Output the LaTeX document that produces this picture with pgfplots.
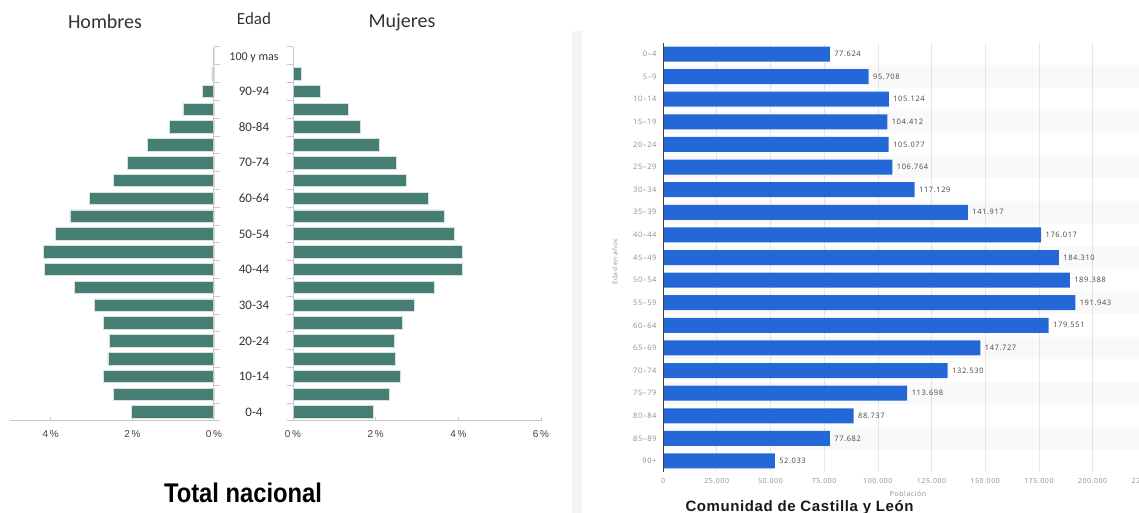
\documentclass[border=0pt]{standalone}
\usepackage{pgfplots}
\usepackage{pgfplotstable}
\pgfplotsset{compat=1.18}
\usepackage{fontspec}
\setmainfont{Carlito}
\newfontfamily\stfont[LetterSpace=8]{Open Sans}
\newfontfamily\arialfont{Liberation Sans}
\newfontfamily\widefont[LetterSpace=4]{Liberation Sans}
\newfontfamily\narrowfont[FakeStretch=0.88]{Liberation Sans}

\definecolor{pyr}{HTML}{477E74}
\definecolor{pyredge}{HTML}{D5E3DF}
\definecolor{axgray}{HTML}{C8C8C8}
\definecolor{hdr}{HTML}{333333}
\definecolor{stblue}{HTML}{2468D8}
\definecolor{stgray}{HTML}{8C8C8C}
\definecolor{sttext}{HTML}{444444}

% Spanish population by five-year age group, % of total (0 = 0-4 ... 20 = 100 y mas)
\pgfplotstableread{
age hom  muj
0   2.03 1.94
1   2.46 2.33
2   2.72 2.59
3   2.60 2.47
4   2.56 2.45
5   2.70 2.65
6   2.93 2.93
7   3.41 3.41
8   4.16 4.09
9   4.18 4.11
10  3.88 3.91
11  3.53 3.66
12  3.06 3.27
13  2.47 2.75
14  2.13 2.50
15  1.64 2.08
16  1.10 1.64
17  0.76 1.34
18  0.28 0.66
19  0.05 0.20
20  0.01 0.02
}\pyramid

\begin{document}
\begin{tikzpicture}
\useasboundingbox (0pt,0pt) rectangle (1139pt,513pt);

% separator strip between the two panels
\fill[black!4] (572pt,0pt) rectangle (582pt,482pt);

% ---------- pyramid headers ----------
\node[font=\fontsize{20}{24}\selectfont, text=hdr] at (105pt,491pt) {Hombres};
\node[font=\fontsize{17}{20}\selectfont, text=hdr] at (254pt,494pt) {Edad};
\node[font=\fontsize{20}{24}\selectfont, text=hdr] at (402pt,491pt) {Mujeres};

% ---------- men (left half) ----------
\begin{axis}[
  at={(10pt,92pt)}, anchor=south west, scale only axis,
  width=204pt, height=374pt,
  xmin=0, xmax=5, x dir=reverse,
  ymin=-0.5, ymax=20.5,
  axis x line*=bottom, axis y line=none,
  x axis line style={axgray, line width=1pt, -},
  xtick={0,2,4}, xticklabels={0\,\%,2\,\%,4\,\%},
  tick align=inside, major tick length=4pt,
  xtick style={axgray, line width=1pt},
  x tick label style={font=\arialfont\fontsize{10}{12}\selectfont, text=black!75, yshift=-6pt},
  ytick=\empty,
  clip=false,
]
\addplot[xbar, bar width=12.5pt, fill=pyr, draw=pyredge, line width=0.8pt]
  table[x=hom, y=age] {\pyramid};
\draw[axgray, line width=1pt] (axis cs:0,-0.5) -- (axis cs:0,20.5);
\pgfplotsinvokeforeach{-0.5,0.5,...,20.5}{
  \draw[axgray, line width=1pt] (axis cs:0,#1) -- ++(6pt,0pt);
}
% age group labels in the central column
\begin{scope}[every node/.style={font=\fontsize{13}{15}\selectfont, text=hdr, xshift=40pt}]
\node at (axis cs:0,0) {0-4};
\node at (axis cs:0,2) {10-14};
\node at (axis cs:0,4) {20-24};
\node at (axis cs:0,6) {30-34};
\node at (axis cs:0,8) {40-44};
\node at (axis cs:0,10) {50-54};
\node at (axis cs:0,12) {60-64};
\node at (axis cs:0,14) {70-74};
\node at (axis cs:0,16) {80-84};
\node at (axis cs:0,18) {90-94};
\node[font=\fontsize{12}{14}\selectfont, yshift=-1.5pt] at (axis cs:0,20) {100 y mas};
\end{scope}
\end{axis}

% ---------- women (right half) ----------
\begin{axis}[
  at={(293pt,92pt)}, anchor=south west, scale only axis,
  width=248pt, height=374pt,
  xmin=0, xmax=6,
  ymin=-0.5, ymax=20.5,
  axis x line*=bottom, axis y line=none,
  x axis line style={axgray, line width=1pt, -},
  xtick={0,2,4,6}, xticklabels={0\,\%,2\,\%,4\,\%,6\,\%},
  tick align=inside, major tick length=4pt,
  xtick style={axgray, line width=1pt},
  x tick label style={font=\arialfont\fontsize{10}{12}\selectfont, text=black!75, yshift=-6pt},
  ytick=\empty,
  clip=false,
]
\addplot[xbar, bar width=12.5pt, fill=pyr, draw=pyredge, line width=0.8pt]
  table[x=muj, y=age] {\pyramid};
\draw[axgray, line width=1pt] (axis cs:0,-0.5) -- (axis cs:0,20.5);
\pgfplotsinvokeforeach{-0.5,0.5,...,20.5}{
  \draw[axgray, line width=1pt] (axis cs:0,#1) -- ++(-6pt,0pt);
}
\end{axis}

\node[font=\narrowfont\bfseries\fontsize{27}{30}\selectfont] at (243pt,20pt) {Total nacional};

% ---------- Castilla y Leon, population by age ----------
\begin{axis}[
  at={(663pt,40.7pt)}, anchor=south west, scale only axis,
  width=483.3pt, height=429.6pt,
  xmin=0, xmax=225000,
  ymin=-0.5, ymax=18.5, y dir=reverse,
  axis line style={draw=none},
  xbar, bar width=15pt,
  xmajorgrids, grid style={black!9, line width=0.6pt},
  xtick={0,25000,50000,75000,100000,125000,150000,175000,200000,225000},
  xticklabels={0,25.000,50.000,75.000,100.000,125.000,150.000,175.000,200.000,225.000},
  scaled x ticks=false,
  ytick={0,1,...,18},
  yticklabels={0–4,5–9,10–14,15–19,20–24,25–29,30–34,35–39,40–44,45–49,
               50–54,55–59,60–64,65–69,70–74,75–79,80–84,85–89,90+},
  major tick length=0pt,
  x tick label style={font=\stfont\fontsize{7}{8}\selectfont, text=stgray, yshift=-3pt},
  y tick label style={font=\stfont\fontsize{7.5}{9}\selectfont, text=stgray, xshift=-3pt},
  nodes near coords={\pgfplotspointmeta},
  point meta=explicit symbolic,
  every node near coord/.append style={font=\stfont\fontsize{7.5}{9}\selectfont, text=sttext, anchor=west, xshift=1pt},
]
% alternating row shading
\fill[black, opacity=0.025] (axis cs:0,0.5) rectangle (axis cs:240000,1.5);
\fill[black, opacity=0.025] (axis cs:0,2.5) rectangle (axis cs:240000,3.5);
\fill[black, opacity=0.025] (axis cs:0,4.5) rectangle (axis cs:240000,5.5);
\fill[black, opacity=0.025] (axis cs:0,6.5) rectangle (axis cs:240000,7.5);
\fill[black, opacity=0.025] (axis cs:0,8.5) rectangle (axis cs:240000,9.5);
\fill[black, opacity=0.025] (axis cs:0,10.5) rectangle (axis cs:240000,11.5);
\fill[black, opacity=0.025] (axis cs:0,12.5) rectangle (axis cs:240000,13.5);
\fill[black, opacity=0.025] (axis cs:0,14.5) rectangle (axis cs:240000,15.5);
\fill[black, opacity=0.025] (axis cs:0,16.5) rectangle (axis cs:240000,17.5);
\addplot[fill=stblue, draw=none] coordinates {
  (77624,0)  [77.624]
  (95708,1)  [95.708]
  (105124,2) [105.124]
  (104412,3) [104.412]
  (105077,4) [105.077]
  (106764,5) [106.764]
  (117129,6) [117.129]
  (141917,7) [141.917]
  (176017,8) [176.017]
  (184310,9) [184.310]
  (189388,10) [189.388]
  (191943,11) [191.943]
  (179551,12) [179.551]
  (147727,13) [147.727]
  (132530,14) [132.530]
  (113698,15) [113.698]
  (88737,16) [88.737]
  (77682,17) [77.682]
  (52033,18) [52.033]
};
\draw[black!75, line width=0.8pt] (axis cs:0,-0.5) -- (axis cs:0,18.5);
\end{axis}

\node[font=\stfont\fontsize{7}{8}\selectfont, text=stgray] at (908pt,19pt) {Población};
\node[font=\stfont\fontsize{6.5}{7}\selectfont, text=stgray, rotate=90] at (615pt,251pt) {Edad en años};
\node[font=\widefont\bfseries\fontsize{15}{17}\selectfont, text=black!90, anchor=base west] at (682pt,1.5pt) {Comunidad de Castilla y León};

\end{tikzpicture}
\end{document}
